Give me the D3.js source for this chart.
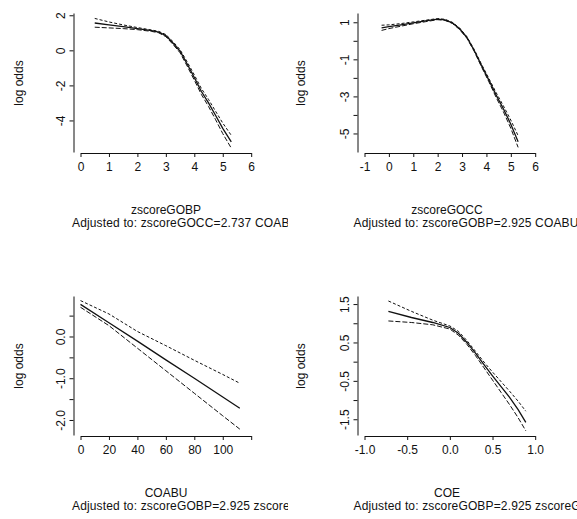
<!DOCTYPE html>
<html>
<head>
<meta charset="utf-8">
<script src="https://cdn.jsdelivr.net/npm/d3@7"></script>
<style>
  body { margin: 0; background: #fff; }
  text { font-family: "Liberation Sans", Arial, sans-serif; font-size: 12px; fill: #111; }
  .adjust { letter-spacing: 0.15px; }
</style>
</head>
<body>
<div id="chart"></div>
<script>
// partial effect plots, log odds vs each predictor (fit + lower/upper limits)

// zscoreGOBP
const gobpX     = [0.5, 1, 1.5, 2, 2.5, 2.75, 3, 3.25, 3.5, 3.75, 4, 4.25, 4.5, 4.75, 5, 5.3]
const gobpFit   = [1.56, 1.45, 1.35, 1.24, 1.12, 1.04, 0.84, 0.42, -0.05, -0.78, -1.55, -2.35, -3.0, -3.72, -4.45, -5.22]
const gobpUpper = [1.82, 1.62, 1.45, 1.30, 1.16, 1.08, 0.90, 0.50, 0.04, -0.66, -1.40, -2.18, -2.80, -3.48, -4.15, -4.85]
const gobpLower = [1.32, 1.28, 1.24, 1.18, 1.08, 1.00, 0.78, 0.34, -0.14, -0.90, -1.70, -2.52, -3.20, -3.96, -4.75, -5.58]

// zscoreGOCC
const goccX     = [-0.3, 0, 0.5, 1, 1.5, 2, 2.3, 2.6, 2.9, 3.2, 3.5, 3.8, 4.1, 4.4, 4.7, 5, 5.3]
const goccFit   = [0.70, 0.76, 0.86, 0.97, 1.07, 1.17, 1.13, 0.97, 0.65, 0.18, -0.52, -1.34, -2.12, -2.93, -3.68, -4.50, -5.45]
const goccUpper = [0.84, 0.86, 0.93, 1.02, 1.11, 1.20, 1.16, 1.00, 0.69, 0.22, -0.47, -1.27, -2.03, -2.80, -3.52, -4.28, -5.12]
const goccLower = [0.56, 0.66, 0.79, 0.92, 1.03, 1.14, 1.10, 0.94, 0.61, 0.14, -0.57, -1.41, -2.21, -3.06, -3.84, -4.72, -5.75]

// COABU
const coabuX     = [0, 20, 40, 60, 80, 100, 112]
const coabuFit   = [0.77, 0.33, -0.11, -0.56, -1.00, -1.45, -1.72]
const coabuUpper = [0.86, 0.54, 0.12, -0.22, -0.57, -0.91, -1.12]
const coabuLower = [0.70, 0.26, -0.28, -0.82, -1.36, -1.90, -2.22]

// COE
const coeX     = [-0.72, -0.45, -0.2, 0, 0.1, 0.2, 0.3, 0.4, 0.5, 0.6, 0.7, 0.8, 0.89]
const coeFit   = [1.31, 1.15, 1.02, 0.89, 0.74, 0.50, 0.22, -0.08, -0.37, -0.65, -0.93, -1.25, -1.58]
const coeUpper = [1.58, 1.31, 1.08, 0.93, 0.79, 0.55, 0.27, -0.01, -0.27, -0.52, -0.77, -1.03, -1.29]
const coeLower = [1.06, 1.02, 0.96, 0.85, 0.69, 0.45, 0.16, -0.16, -0.48, -0.80, -1.12, -1.46, -1.80]

// axis ticks and labels
const gobpXTicks  = [0, 1, 2, 3, 4, 5, 6]
const gobpYTicks  = [2, 0, -2, -4]
const gobpYLabels = ["2", "0", "-2", "-4"]
const goccXTicks  = [-1, 0, 1, 2, 3, 4, 5, 6]
const goccYTicks  = [1, 0, -1, -2, -3, -4, -5]
const goccYLabels = ["1", "", "-1", "", "-3", "", "-5"]
const coabuXTicks  = [0, 20, 40, 60, 80, 100, 120]
const coabuXLabels = ["0", "20", "40", "60", "80", "100", ""]
const coabuYTicks  = [0.5, 0, -0.5, -1, -1.5, -2]
const coabuYLabels = ["", "0.0", "", "-1.0", "", "-2.0"]
const coeXTicks  = [-1, -0.5, 0, 0.5, 1]
const coeXLabels = ["-1.0", "-0.5", "0.0", "0.5", "1.0"]
const coeYTicks  = [1.5, 1, 0.5, 0, -0.5, -1, -1.5]
const coeYLabels = ["1.5", "", "0.5", "", "-0.5", "", "-1.5"]

const titles  = ["zscoreGOBP", "zscoreGOCC", "COABU", "COE"]
const adjusts = ["Adjusted to: zscoreGOCC=2.737 COABU",
                 "Adjusted to: zscoreGOBP=2.925 COABU",
                 "Adjusted to: zscoreGOBP=2.925 zscoreGOCC",
                 "Adjusted to: zscoreGOBP=2.925 zscoreGOCC"]

const width = 577, height = 519

const panels = [
  { xs: gobpX, fit: gobpFit, up: gobpUpper, lo: gobpLower, xDom: [0, 6], yDom: [2.13, -5.8],
    xTicks: gobpXTicks, xLabels: gobpXTicks.map(String), yTicks: gobpYTicks, yLabels: gobpYLabels },
  { xs: goccX, fit: goccFit, up: goccUpper, lo: goccLower, xDom: [-1, 6], yDom: [1.5, -6.0],
    xTicks: goccXTicks, xLabels: goccXTicks.map(String), yTicks: goccYTicks, yLabels: goccYLabels },
  { xs: coabuX, fit: coabuFit, up: coabuUpper, lo: coabuLower, xDom: [0, 120], yDom: [0.97, -2.36],
    xTicks: coabuXTicks, xLabels: coabuXLabels, yTicks: coabuYTicks, yLabels: coabuYLabels },
  { xs: coeX, fit: coeFit, up: coeUpper, lo: coeLower, xDom: [-1, 1], yDom: [1.71, -1.91],
    xTicks: coeXTicks, xLabels: coeXLabels, yTicks: coeYTicks, yLabels: coeYLabels }
]

const svg = d3.select("#chart").append("svg")
  .attr("width", width)
  .attr("height", height)

const colOffset = 284, rowOffset = 283

// clips for the long "Adjusted to" lines (cut at the panel / window edge)
const defs = svg.append("defs")
defs.append("clipPath").attr("id", "clip0")
  .append("rect").attr("x", 0).attr("y", 0).attr("width", 288).attr("height", 300)
defs.append("clipPath").attr("id", "clip1")
  .append("rect").attr("x", 0).attr("y", 0).attr("width", width - colOffset).attr("height", 300)

const titleX = [166, 163]   // text sits a bit left in right column
const adjX = [72, 69.5]

panels.forEach((p, i) => {
  const col = i % 2, row = Math.floor(i / 2)
  const g = svg.append("g").attr("transform", `translate(${col * colOffset},${row * rowOffset})`)

  const x = d3.scaleLinear().domain(p.xDom).range([80.5, 251.2])
  const y = d3.scaleLinear().domain(p.yDom).range([13, 152])

  // x axis
  const xa = g.append("g").attr("transform", "translate(0,153)")
    .call(d3.axisBottom(x).tickValues(p.xTicks).tickSize(4).tickSizeOuter(0)
      .tickFormat((d, k) => p.xLabels[k]))
  xa.selectAll("text").attr("y", 17.5).attr("dy", null)

  // y axis, labels turned sideways
  const ya = g.append("g").attr("transform", "translate(73.5,0)")
    .call(d3.axisLeft(y).tickValues(p.yTicks).tickSize(4).tickSizeOuter(0)
      .tickFormat((d, k) => p.yLabels[k]))
  ya.selectAll("text")
    .attr("transform", "rotate(-90)")
    .attr("x", 0).attr("y", -8.5).attr("dy", null)
    .attr("text-anchor", "middle")

  g.selectAll(".domain, .tick line").attr("stroke", "#111")

  const line = d3.line().x(d => x(d[0])).y(d => y(d[1]))
  const series = [
    { v: p.fit, dash: null, w: 1.3 },
    { v: p.up,  dash: "3,2", w: 1 },
    { v: p.lo,  dash: "5,2", w: 1 }
  ]
  g.selectAll(".curve").data(series).enter().append("path")
    .attr("class", "curve")
    .attr("fill", "none")
    .attr("stroke", "#111")
    .attr("stroke-width", d => d.w)
    .attr("stroke-dasharray", d => d.dash)
    .attr("d", d => line(p.xs.map((xv, k) => [xv, d.v[k]])))

  g.append("text")
    .attr("transform", `translate(${23 - col * 2},83) rotate(-90)`)
    .attr("text-anchor", "middle")
    .text("log odds")

  g.append("text")
    .attr("x", titleX[col]).attr("y", 214)
    .attr("text-anchor", "middle")
    .text(titles[i])

  g.append("g").attr("clip-path", `url(#clip${col})`)
    .append("text")
    .attr("class", "adjust")
    .attr("x", adjX[col]).attr("y", 227)
    .text(adjusts[i])
})
</script>
</body>
</html>
